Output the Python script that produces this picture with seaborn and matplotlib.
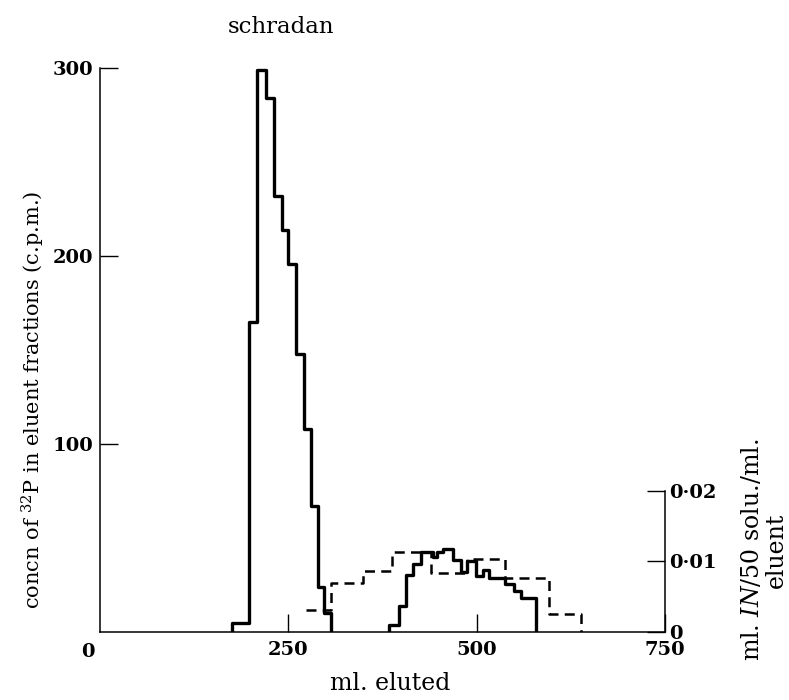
import matplotlib
matplotlib.use("Agg")
import matplotlib.pyplot as plt
import matplotlib.transforms as mtransforms
import numpy as np
import pandas as pd
import seaborn as sns

# ---------------- data ----------------
# solid histogram: 32P counts (c.p.m.) per eluent fraction
peak1_edges = [175, 198, 209, 221, 231, 241, 250, 260, 271, 280, 289, 298, 307]
peak1_counts = [4.5, 165, 299, 284, 232, 214, 196, 148, 108, 67, 24, 10]

peak2_edges = [384, 397, 406, 415, 426, 442, 448, 455, 468, 479, 487, 499, 508,
               517, 537, 550, 559, 579]
peak2_counts = [3.6, 13.7, 30, 36, 42.6, 40, 42.6, 44, 38, 31.6, 37.7, 29.7,
                32.9, 28.4, 25.2, 21.7, 18.1]

# dashed histogram: ml. IN/50 solution per ml. eluent (right axis)
dash_edges = [274, 307, 349, 388, 439, 487, 537, 596, 638]
dash_values = [0.0031, 0.0070, 0.0086, 0.0114, 0.0083, 0.0103, 0.0076, 0.0025]

x_ticks = [250, 500, 750]
y_ticks = [100, 200, 300]
y2_ticks = [0, 0.01, 0.02]
y2_ticklabels = ["0", "0·01", "0·02"]

# ---------------- style ----------------
sns.set_style("ticks")
plt.rcParams["font.family"] = ["DejaVu Serif"]
plt.rcParams["mathtext.fontset"] = "dejavuserif"
for key in ["text.color", "axes.labelcolor", "xtick.color", "ytick.color",
            "axes.edgecolor"]:
    plt.rcParams[key] = "black"

W, H = 789, 700
fig = plt.figure(figsize=(W / 100, H / 100), dpi=100)
ax = fig.add_axes([100 / W, (H - 631.7) / H, 565 / W, 563.4 / H])


def step_frame(edges, vals, rise=True):
    x = ([edges[0]] if rise else []) + list(edges)
    y = ([0] if rise else []) + list(vals) + [0]
    return pd.DataFrame({"ml": x, "v": y})


for edges, vals in [(peak1_edges, peak1_counts), (peak2_edges, peak2_counts)]:
    sns.lineplot(data=step_frame(edges, vals), x="ml", y="v", ax=ax,
                 estimator=None, sort=False, drawstyle="steps-post",
                 color="black", lw=2.4)

ax.set_xlim(0, 750)
ax.set_ylim(0, 300)
ax.set_xlabel("")
ax.set_ylabel("")
ax.set_xticks(x_ticks)
ax.set_xticklabels([str(t) for t in x_ticks])
ax.set_yticks(y_ticks)
ax.set_yticklabels([str(t) for t in y_ticks])
tick_font = dict(fontsize=14, fontweight="bold", color="black")
for lab in ax.get_xticklabels() + ax.get_yticklabels():
    lab.set_fontsize(14)
    lab.set_fontweight("bold")
    lab.set_color("black")
ax.tick_params(axis="x", direction="in", length=13, width=1, pad=7, top=False,
               colors="black")
ax.tick_params(axis="y", direction="in", length=13, width=1, pad=5, right=False,
               colors="black")
for s in ["top", "right"]:
    ax.spines[s].set_visible(False)
for s in ["left", "bottom"]:
    ax.spines[s].set_linewidth(1.1)
    ax.spines[s].set_color("black")

# shared origin label "0"
trans = mtransforms.offset_copy(ax.transData, fig=fig, x=-12, y=-20, units="dots")
ax.text(0, 0, "0", transform=trans, ha="center", va="center", **tick_font)

# right axis
ax2 = ax.twinx()
dash_df = step_frame(dash_edges, dash_values, rise=False)
sns.lineplot(data=dash_df, x="ml", y="v", ax=ax2, estimator=None, sort=False,
             drawstyle="steps-post", color="black", lw=1.8,
             dashes=False, linestyle=(0, (4, 2.5)))
ax2.set_ylim(0, 300 / 3742)
ax2.set_xlim(0, 750)
ax2.set_ylabel("")
ax2.set_yticks(y2_ticks)
ax2.set_yticklabels(y2_ticklabels)
for lab in ax2.get_yticklabels():
    lab.set_fontsize(14)
    lab.set_fontweight("bold")
    lab.set_color("black")
ax2.tick_params(axis="y", direction="in", length=13, width=1, pad=3, colors="black")
for s in ["top", "left", "bottom"]:
    ax2.spines[s].set_visible(False)
ax2.spines["right"].set_bounds(0, 0.02)
ax2.spines["right"].set_linewidth(1.1)
ax2.spines["right"].set_color("black")

# texts
fig.text(281 / W, 1 - 27 / H, "schradan", ha="center", va="center", fontsize=16.5)
fig.text(33 / W, 1 - 400 / H, "concn of $^{32}$P in eluent fractions (c.p.m.)",
         rotation=90, ha="center", va="center", fontsize=15)
fig.text(390 / W, 1 - 683 / H, "ml. eluted", ha="center", va="center", fontsize=17)
fig.text(764 / W, 1 - 550 / H, "ml. $\\mathit{IN}$/50 solu./ml.\neluent",
         rotation=90, ha="center", va="center", multialignment="center",
         fontsize=17, linespacing=1.05)

fig.savefig("out.png", dpi=100, facecolor="white")
